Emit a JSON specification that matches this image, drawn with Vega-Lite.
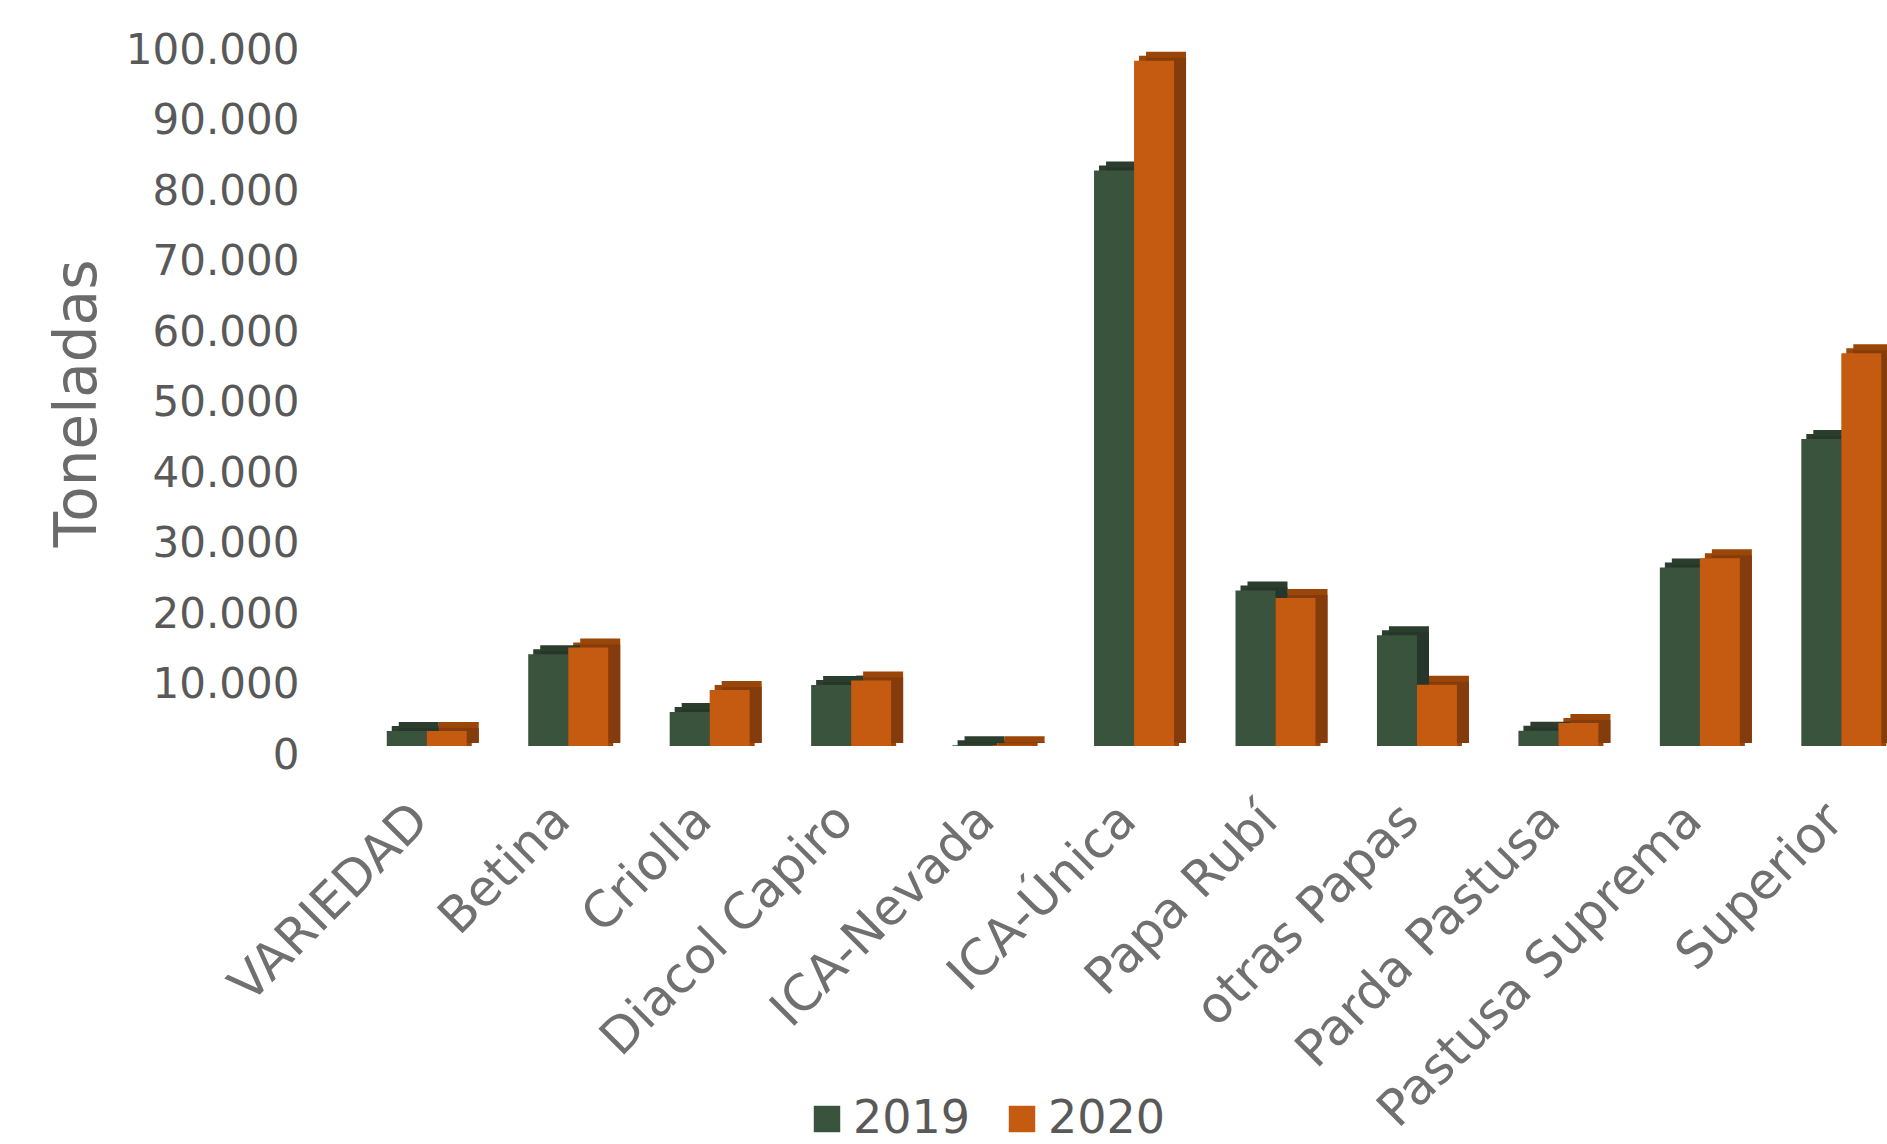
{
"$schema":"https://vega.github.io/schema/vega-lite/v6.json",
"autosize":"none",
"padding":{"left":356,"top":41,"right":0,"bottom":398},
"width":1556,
"height":705,
"background":"white",
"config":{"view":{"stroke":null},"font":"DejaVu Sans"},
"data":{"values":[
{"variedad":"VARIEDAD","anio":"2019","toneladas":2130},{"variedad":"VARIEDAD","anio":"2020","toneladas":2130},
{"variedad":"Betina","anio":"2019","toneladas":13000},{"variedad":"Betina","anio":"2020","toneladas":13980},
{"variedad":"Criolla","anio":"2019","toneladas":4840},{"variedad":"Criolla","anio":"2020","toneladas":7960},
{"variedad":"Diacol Capiro","anio":"2019","toneladas":8650},{"variedad":"Diacol Capiro","anio":"2020","toneladas":9290},
{"variedad":"ICA-Nevada","anio":"2019","toneladas":100},{"variedad":"ICA-Nevada","anio":"2020","toneladas":100},
{"variedad":"ICA-Única","anio":"2019","toneladas":81630},{"variedad":"ICA-Única","anio":"2020","toneladas":97200},
{"variedad":"Papa Rubí","anio":"2019","toneladas":22070},{"variedad":"Papa Rubí","anio":"2020","toneladas":20990},
{"variedad":"otras Papas","anio":"2019","toneladas":15700},{"variedad":"otras Papas","anio":"2020","toneladas":8680},
{"variedad":"Parda Pastusa","anio":"2019","toneladas":2170},{"variedad":"Parda Pastusa","anio":"2020","toneladas":3260},
{"variedad":"Pastusa Suprema","anio":"2019","toneladas":25330},{"variedad":"Pastusa Suprema","anio":"2020","toneladas":26630},
{"variedad":"Superior","anio":"2019","toneladas":43560},{"variedad":"Superior","anio":"2020","toneladas":55700}
]},
"encoding":{
"x":{"field":"variedad","type":"nominal","sort":null,"title":null,
 "scale":{"paddingInner":0.435,"paddingOuter":0.2175},
 "axis":{"labelAngle":-45,"labelAlign":"right","labelBaseline":"middle","labelFont":"DejaVu Sans","labelFontSize":50,"labelColor":"#707070","labelPadding":66,"labelOffset":-6,"domain":false,"ticks":false,"labelOverlap":false,"labelLimit":0}},
"y":{"field":"toneladas","type":"quantitative","title":"Toneladas",
 "scale":{"domain":[0,100000],"nice":false},
 "axis":{"values":[0,10000,20000,30000,40000,50000,60000,70000,80000,90000,100000],"labelExpr":"replace(format(datum.value,','),',','.')","labelFontSize":42,"labelColor":"#595959","labelPadding":57,"labelOffset":9,"domain":false,"ticks":false,"grid":false,"titleFontSize":58,"titleFontWeight":"normal","titleColor":"#6b6b6b","titleAngle":-90,"titleAlign":"center","titleBaseline":"middle","titleX":-278,"titleY":362,"labelOverlap":false}}
},
"layer":[
{"mark":{"type":"bar","yOffset":-5,"y2Offset":0},
 "encoding":{"y2":{"datum":0},"xOffset":{"field":"anio","type":"nominal","scale":{"domain":["2019","2020"],"range":[5,85]}},
 "color":{"field":"anio","type":"nominal","legend":null,"scale":{"domain":["2019","2020"],"range":["#2b3d2c","#9a4608"]}}}},
{"mark":{"type":"bar","yOffset":-9,"y2Offset":-3},
 "encoding":{"y2":{"datum":0},"xOffset":{"field":"anio","type":"nominal","scale":{"domain":["2019","2020"],"range":[12,92]}},
 "color":{"field":"anio","type":"nominal","legend":null,"scale":{"domain":["2019","2020"],"range":["#2b3d2c","#9a4608"]}}}},
{"mark":{"type":"bar","yOffset":-3,"y2Offset":-3},
 "encoding":{"y2":{"datum":0},"xOffset":{"field":"anio","type":"nominal","scale":{"domain":["2019","2020"],"range":[12,92]}},
 "color":{"field":"anio","type":"nominal","legend":null,"scale":{"domain":["2019","2020"],"range":["#26362a","#843c0c"]}}}},
{"mark":{"type":"bar"},
 "encoding":{"xOffset":{"field":"anio","type":"nominal","scale":{"domain":["2019","2020"],"range":[0,80]}},
 "color":{"field":"anio","type":"nominal","title":null,"scale":{"domain":["2019","2020"],"range":["#3a533c","#c55a11"]},
  "legend":{"orient":"none","legendX":448,"legendY":1055,"direction":"horizontal","symbolType":"square","symbolSize":700,"symbolStrokeWidth":0,"labelFontSize":46,"labelColor":"#595959","labelOffset":3,"columnPadding":28,"labelLimit":0,"symbolOpacity":1}}}}
],
"resolve":{"scale":{"color":"independent","xOffset":"independent"}}
}
